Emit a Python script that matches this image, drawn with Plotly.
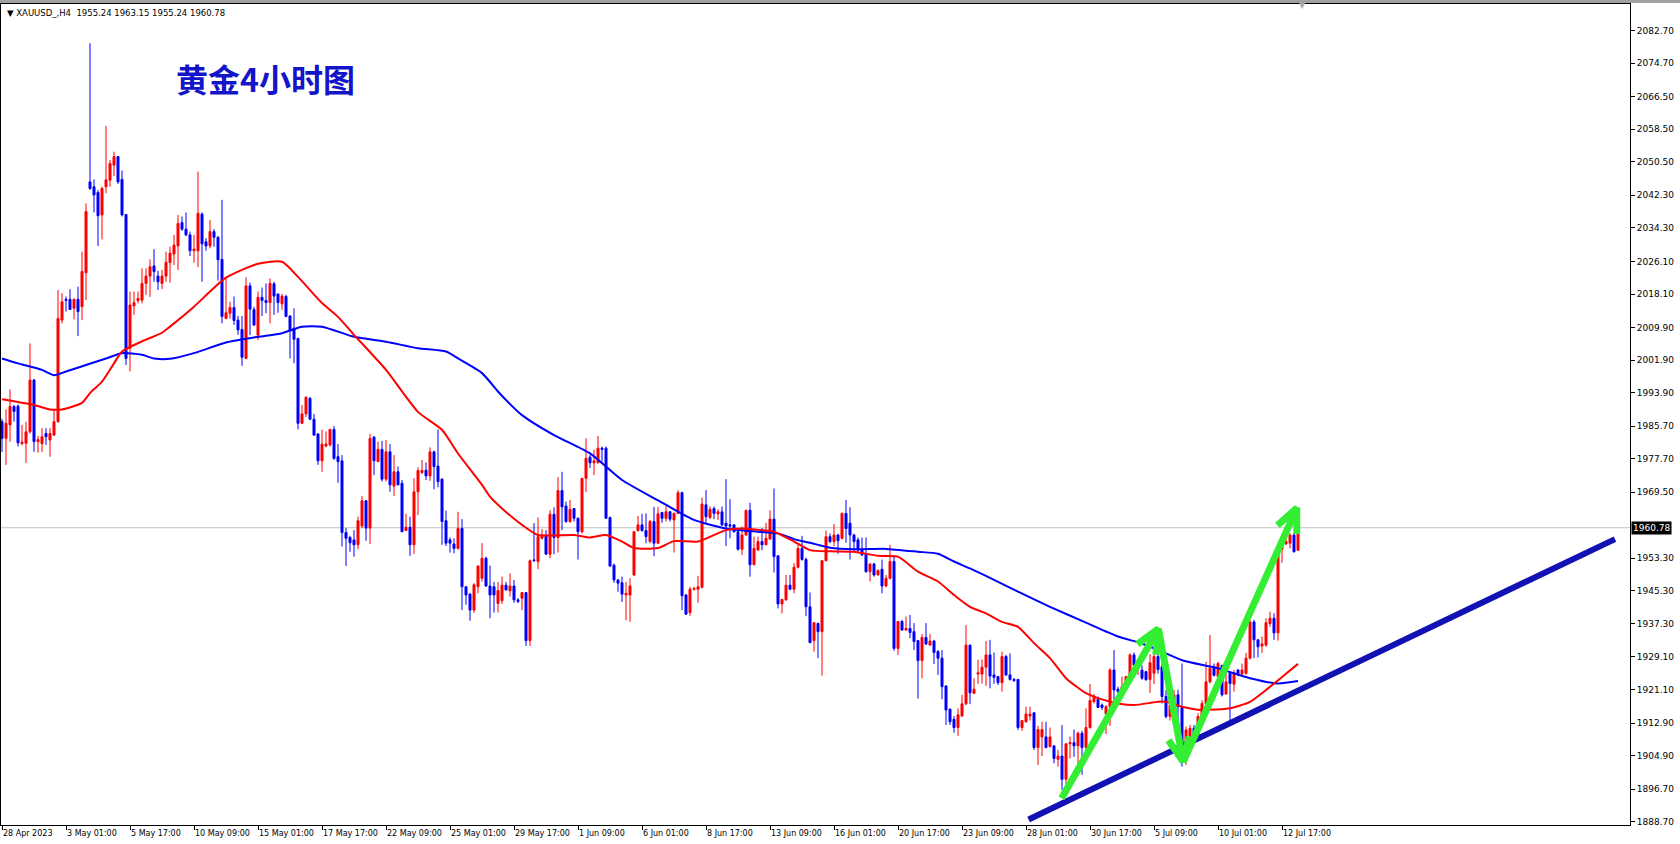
import math
import plotly.graph_objects as go

# ---------------- data ----------------
tick_labels = ["28 Apr 2023", "3 May 01:00", "5 May 17:00", "10 May 09:00", "15 May 01:00",
               "17 May 17:00", "22 May 09:00", "25 May 01:00", "29 May 17:00", "1 Jun 09:00",
               "6 Jun 01:00", "8 Jun 17:00", "13 Jun 09:00", "16 Jun 01:00", "20 Jun 17:00",
               "23 Jun 09:00", "28 Jun 01:00", "30 Jun 17:00", "5 Jul 09:00", "10 Jul 01:00",
               "12 Jul 17:00"]
tick_bars = [0, 16, 32, 48, 64, 80, 96, 112, 128, 144, 160, 176, 192, 208, 224, 240, 256,
             272, 288, 304, 320]

price_ticks = [2082.70, 2074.70, 2066.50, 2058.50, 2050.50, 2042.30, 2034.30, 2026.10,
               2018.10, 2009.90, 2001.90, 1993.90, 1985.70, 1977.70, 1969.50, 1953.30,
               1945.30, 1937.30, 1929.10, 1921.10, 1912.90, 1904.90, 1896.70, 1888.70]

# OHLC per 4h bar (bar index 0 = 28 Apr 09:00)
ohlc = [
    (1986.8, 1987.5, 1979.4, 1982.7), (1982.7, 1989.8, 1976.2, 1986.4), (1986.0, 1994.7, 1981.9, 1990.5),
    (1990.5, 1990.9, 1986.8, 1989.3), (1990.6, 1991.0, 1980.7, 1981.6), (1981.4, 1986.0, 1981.0, 1981.8),
    (1981.5, 1986.8, 1976.7, 1984.3), (1984.3, 2006.0, 1983.9, 1997.0), (1997.0, 1997.3, 1979.4, 1981.9),
    (1981.9, 1983.3, 1979.2, 1982.4), (1981.4, 1985.2, 1979.4, 1983.1), (1983.9, 1985.2, 1981.1, 1983.1),
    (1982.3, 1985.2, 1978.2, 1983.9), (1983.5, 1989.7, 1983.3, 1986.8), (1986.8, 2019.1, 1986.5, 2012.1),
    (2011.7, 2018.3, 2010.9, 2016.2), (2016.8, 2017.5, 2013.8, 2016.5), (2016.8, 2019.3, 2014.3, 2014.3),
    (2014.6, 2017.0, 2011.9, 2016.8), (2016.8, 2019.9, 2007.8, 2013.8), (2015.0, 2028.5, 2011.7, 2023.6),
    (2023.3, 2040.3, 2016.6, 2038.3), (2045.6, 2079.6, 2043.6, 2044.0), (2044.4, 2046.2, 2038.1, 2042.4),
    (2043.0, 2043.6, 2029.9, 2037.3), (2037.5, 2044.4, 2031.5, 2044.0), (2044.4, 2059.3, 2042.8, 2046.1),
    (2046.0, 2051.0, 2044.4, 2050.1), (2049.7, 2053.0, 2047.0, 2051.8), (2051.8, 2051.9, 2045.1, 2045.6),
    (2046.2, 2048.4, 2037.1, 2037.5), (2037.6, 2037.7, 2000.7, 2002.3), (2004.8, 2018.7, 1999.1, 2015.4),
    (2015.2, 2018.7, 2013.0, 2016.0), (2016.5, 2018.7, 2015.8, 2017.0), (2016.6, 2024.4, 2015.8, 2020.7),
    (2020.7, 2024.4, 2017.9, 2022.5), (2022.5, 2026.6, 2017.4, 2024.8), (2025.0, 2029.1, 2021.1, 2023.6),
    (2022.5, 2023.8, 2019.1, 2021.1), (2020.7, 2024.0, 2019.3, 2022.5), (2022.5, 2028.5, 2021.1, 2025.9),
    (2025.8, 2029.7, 2020.9, 2028.1), (2027.9, 2032.6, 2025.2, 2030.1), (2029.9, 2037.5, 2024.0, 2035.4),
    (2035.6, 2037.1, 2033.6, 2034.0), (2034.0, 2038.1, 2032.3, 2032.6), (2032.6, 2033.4, 2027.4, 2028.7),
    (2028.7, 2032.6, 2025.8, 2029.1), (2028.7, 2048.1, 2024.7, 2037.9), (2037.7, 2038.1, 2021.1, 2030.4),
    (2030.9, 2031.8, 2028.7, 2029.9), (2029.9, 2036.3, 2029.3, 2033.4), (2033.4, 2034.0, 2029.7, 2032.0),
    (2032.0, 2032.3, 2021.4, 2026.5), (2026.6, 2041.2, 2010.9, 2012.6), (2012.1, 2022.0, 2011.9, 2013.5),
    (2013.4, 2016.2, 2012.1, 2014.8), (2014.8, 2017.5, 2010.5, 2011.6), (2011.7, 2012.7, 2008.1, 2009.3),
    (2009.4, 2012.7, 2000.5, 2002.6), (2002.3, 2022.2, 2002.1, 2020.1), (2020.1, 2020.9, 2008.0, 2014.4),
    (2014.3, 2015.0, 2010.3, 2010.5), (2008.0, 2018.7, 2006.8, 2017.3), (2017.3, 2019.7, 2012.7, 2016.5),
    (2016.5, 2020.7, 2013.4, 2016.0), (2016.0, 2021.9, 2010.9, 2020.7), (2020.6, 2021.1, 2013.0, 2017.6),
    (2018.1, 2018.2, 2013.5, 2016.0), (2015.7, 2018.1, 2014.2, 2017.6), (2017.5, 2017.9, 2012.4, 2012.6),
    (2012.7, 2012.9, 2002.3, 2009.3), (2009.7, 2014.6, 2001.1, 2007.0), (2007.2, 2007.4, 1984.9, 1986.4),
    (1986.4, 1990.9, 1986.2, 1988.7), (1988.7, 1993.0, 1987.9, 1992.8), (1992.5, 1992.9, 1987.2, 1987.4),
    (1987.4, 1988.7, 1983.3, 1983.5), (1983.8, 1983.9, 1976.2, 1977.2), (1977.2, 1984.8, 1974.5, 1981.3),
    (1980.8, 1984.4, 1980.5, 1981.3), (1981.1, 1985.0, 1980.7, 1984.9), (1984.9, 1985.7, 1977.4, 1977.8),
    (1978.2, 1981.3, 1971.8, 1977.0), (1977.2, 1978.6, 1956.2, 1959.6), (1959.6, 1960.7, 1951.4, 1958.2),
    (1958.4, 1958.8, 1954.9, 1957.1), (1957.8, 1960.2, 1953.7, 1956.6), (1956.6, 1963.5, 1955.5, 1962.5),
    (1961.2, 1968.6, 1960.7, 1967.4), (1967.4, 1967.6, 1957.6, 1960.7), (1960.7, 1983.8, 1956.8, 1982.7),
    (1983.0, 1983.3, 1973.7, 1977.2), (1977.0, 1981.9, 1976.9, 1980.0), (1980.0, 1982.1, 1972.1, 1972.7),
    (1972.7, 1982.3, 1972.1, 1979.4), (1979.4, 1981.3, 1969.6, 1971.3), (1971.0, 1978.6, 1968.6, 1974.5),
    (1974.5, 1975.8, 1971.3, 1971.3), (1971.7, 1972.5, 1959.8, 1959.8), (1960.1, 1964.2, 1960.0, 1960.9),
    (1960.9, 1963.5, 1953.9, 1956.6), (1956.6, 1972.9, 1954.4, 1969.6), (1969.6, 1975.6, 1963.9, 1974.8),
    (1974.3, 1977.4, 1974.0, 1974.8), (1974.9, 1976.8, 1972.5, 1973.5), (1973.5, 1980.5, 1972.3, 1979.4),
    (1979.4, 1979.7, 1970.2, 1975.8), (1975.9, 1984.9, 1970.7, 1972.1), (1972.7, 1972.9, 1956.6, 1962.3),
    (1962.5, 1965.0, 1956.3, 1957.0), (1957.8, 1958.4, 1954.7, 1957.0), (1956.8, 1958.2, 1954.5, 1955.7),
    (1955.7, 1964.7, 1955.4, 1960.6), (1960.6, 1962.9, 1940.6, 1946.3), (1946.3, 1946.5, 1941.9, 1944.3),
    (1944.5, 1944.8, 1938.0, 1940.6), (1940.6, 1947.2, 1939.9, 1946.8), (1946.3, 1951.6, 1944.7, 1951.4),
    (1948.4, 1957.0, 1947.6, 1953.3), (1953.3, 1953.7, 1946.3, 1946.5), (1946.5, 1951.5, 1938.6, 1944.3),
    (1946.3, 1947.5, 1940.0, 1944.3), (1942.2, 1947.5, 1940.0, 1945.4), (1942.9, 1948.8, 1942.1, 1946.7),
    (1946.7, 1947.5, 1945.5, 1945.5), (1945.3, 1949.6, 1943.9, 1946.5), (1946.5, 1948.0, 1942.4, 1943.1),
    (1943.1, 1943.5, 1942.3, 1942.7), (1943.5, 1945.0, 1940.6, 1944.9), (1944.9, 1945.0, 1931.8, 1933.1),
    (1933.1, 1953.0, 1931.8, 1952.7), (1952.9, 1961.9, 1952.5, 1952.7), (1952.5, 1963.3, 1950.6, 1958.6),
    (1958.2, 1960.4, 1957.9, 1959.0), (1959.0, 1960.2, 1954.2, 1954.3), (1954.3, 1965.1, 1953.3, 1964.1),
    (1964.1, 1965.8, 1954.3, 1958.4), (1958.4, 1973.2, 1954.7, 1969.9), (1969.9, 1974.5, 1960.2, 1965.9),
    (1966.1, 1967.2, 1962.0, 1962.3), (1962.3, 1967.6, 1962.0, 1965.3), (1965.5, 1965.6, 1962.3, 1963.1),
    (1963.1, 1963.3, 1953.0, 1959.8), (1959.8, 1973.0, 1959.4, 1972.9), (1972.9, 1982.7, 1969.6, 1977.8),
    (1978.1, 1978.6, 1975.4, 1976.7), (1976.7, 1979.9, 1973.7, 1977.2), (1976.7, 1983.3, 1976.6, 1980.3),
    (1980.3, 1980.7, 1977.0, 1980.0), (1980.3, 1980.7, 1962.9, 1963.1), (1963.3, 1963.5, 1951.2, 1951.4),
    (1951.6, 1952.0, 1947.3, 1948.0), (1948.0, 1948.1, 1945.1, 1947.2), (1947.3, 1948.8, 1942.6, 1944.5),
    (1944.3, 1947.5, 1938.1, 1944.7), (1944.3, 1948.4, 1937.7, 1946.5), (1949.2, 1959.9, 1948.9, 1959.8),
    (1960.1, 1963.7, 1959.8, 1961.5), (1961.5, 1964.2, 1959.8, 1960.1), (1960.1, 1964.3, 1957.0, 1958.6),
    (1957.4, 1962.7, 1957.0, 1962.3), (1962.3, 1965.9, 1953.8, 1957.0), (1957.0, 1965.9, 1956.8, 1964.2),
    (1964.5, 1964.7, 1962.0, 1963.1), (1963.1, 1966.1, 1962.3, 1964.7), (1964.7, 1964.8, 1962.3, 1962.9),
    (1962.7, 1964.5, 1954.7, 1964.3), (1964.3, 1970.0, 1964.2, 1969.4), (1969.4, 1969.6, 1940.6, 1944.1),
    (1944.3, 1944.5, 1939.4, 1939.6), (1940.0, 1946.3, 1939.2, 1945.7), (1945.7, 1946.3, 1945.4, 1945.9),
    (1945.7, 1949.0, 1942.4, 1946.3), (1946.2, 1968.2, 1945.9, 1966.6), (1966.4, 1970.0, 1962.0, 1963.5),
    (1963.3, 1966.0, 1962.9, 1965.3), (1965.5, 1966.0, 1962.9, 1964.3), (1964.2, 1965.3, 1962.7, 1964.7),
    (1964.7, 1966.0, 1961.2, 1961.5), (1961.9, 1972.7, 1956.3, 1961.2), (1961.5, 1967.8, 1958.2, 1961.2),
    (1961.5, 1961.6, 1959.6, 1959.8), (1959.8, 1960.1, 1955.2, 1955.5), (1955.5, 1961.1, 1954.1, 1959.0),
    (1959.0, 1965.3, 1958.8, 1965.0), (1965.1, 1966.9, 1948.8, 1951.7), (1951.7, 1958.6, 1951.6, 1955.7),
    (1955.3, 1958.6, 1955.2, 1957.4), (1957.4, 1960.7, 1955.3, 1956.6), (1956.6, 1962.0, 1956.5, 1958.2),
    (1958.0, 1965.1, 1957.9, 1962.9), (1962.9, 1970.4, 1949.8, 1953.7), (1953.9, 1954.0, 1941.0, 1942.1),
    (1942.1, 1943.3, 1939.8, 1943.2), (1943.1, 1949.2, 1942.9, 1946.7), (1946.7, 1949.2, 1945.5, 1945.7),
    (1945.7, 1952.1, 1944.7, 1951.1), (1951.1, 1956.6, 1950.8, 1955.7), (1955.7, 1958.8, 1952.7, 1953.0),
    (1953.0, 1953.5, 1939.1, 1941.4), (1941.4, 1944.9, 1932.5, 1932.6), (1933.1, 1937.6, 1930.4, 1937.5),
    (1937.3, 1937.5, 1928.8, 1935.3), (1935.3, 1952.8, 1924.5, 1952.7), (1952.7, 1960.1, 1952.5, 1958.6),
    (1958.6, 1959.4, 1957.0, 1957.4), (1957.4, 1961.7, 1956.3, 1959.0), (1959.0, 1959.3, 1954.4, 1957.6),
    (1958.2, 1964.5, 1957.9, 1964.3), (1964.3, 1967.6, 1957.1, 1960.6), (1961.9, 1965.8, 1953.0, 1959.0),
    (1959.0, 1959.3, 1954.7, 1957.4), (1957.8, 1958.4, 1954.9, 1955.3), (1955.5, 1958.4, 1953.9, 1954.1),
    (1954.3, 1958.4, 1949.8, 1950.0), (1950.0, 1952.1, 1947.6, 1951.9), (1951.9, 1952.2, 1948.8, 1949.2),
    (1949.2, 1950.6, 1949.1, 1950.3), (1950.6, 1953.0, 1944.7, 1946.5), (1946.5, 1949.2, 1946.2, 1948.4),
    (1948.4, 1956.6, 1948.1, 1952.5), (1952.5, 1954.1, 1930.6, 1931.2), (1931.2, 1937.9, 1929.6, 1937.8),
    (1937.8, 1938.2, 1935.6, 1935.7), (1935.7, 1939.0, 1935.5, 1936.1), (1936.1, 1939.4, 1933.7, 1935.1),
    (1935.3, 1937.4, 1930.8, 1932.9), (1933.1, 1933.3, 1918.9, 1928.2), (1928.2, 1934.7, 1923.9, 1933.9),
    (1933.9, 1937.4, 1932.0, 1932.3), (1932.0, 1934.7, 1931.9, 1933.0), (1933.0, 1933.3, 1927.4, 1930.2),
    (1930.4, 1930.8, 1924.7, 1928.8), (1928.8, 1930.8, 1918.7, 1921.8), (1922.0, 1922.1, 1912.4, 1916.1),
    (1916.3, 1916.4, 1912.4, 1913.2), (1913.8, 1914.6, 1910.5, 1911.8), (1911.8, 1916.5, 1909.7, 1914.9),
    (1914.6, 1919.8, 1914.5, 1917.6), (1917.6, 1936.9, 1917.3, 1932.0), (1932.0, 1932.1, 1917.6, 1920.3),
    (1920.2, 1923.9, 1920.0, 1921.2), (1924.9, 1928.4, 1922.5, 1925.2), (1924.9, 1928.5, 1922.6, 1926.6),
    (1926.6, 1933.0, 1922.0, 1929.6), (1929.6, 1933.3, 1921.4, 1924.4), (1924.7, 1930.2, 1922.5, 1924.1),
    (1924.3, 1924.4, 1922.2, 1922.8), (1922.8, 1930.4, 1920.6, 1929.2), (1929.2, 1929.6, 1924.4, 1924.7),
    (1924.7, 1930.0, 1923.3, 1923.6), (1923.6, 1923.9, 1923.0, 1923.3), (1923.6, 1923.7, 1911.2, 1911.8),
    (1911.8, 1913.5, 1911.0, 1913.5), (1913.2, 1916.9, 1913.0, 1915.1), (1914.6, 1916.9, 1913.5, 1915.1),
    (1915.4, 1915.5, 1906.3, 1906.9), (1906.9, 1912.2, 1902.6, 1911.3), (1909.5, 1913.2, 1904.8, 1911.3),
    (1909.5, 1913.2, 1906.7, 1906.9), (1907.1, 1911.8, 1906.9, 1909.5), (1907.3, 1907.4, 1903.0, 1904.2),
    (1904.0, 1906.3, 1902.2, 1904.8), (1904.8, 1912.4, 1896.5, 1899.1), (1899.1, 1907.9, 1897.9, 1907.8),
    (1907.8, 1909.6, 1904.2, 1908.1), (1908.1, 1911.3, 1904.6, 1907.3), (1907.3, 1910.8, 1902.4, 1910.4),
    (1910.4, 1911.0, 1900.2, 1906.9), (1906.9, 1916.5, 1906.3, 1911.8), (1911.8, 1922.5, 1911.5, 1918.4),
    (1918.1, 1920.0, 1917.7, 1919.5), (1918.7, 1919.4, 1916.6, 1916.7), (1917.3, 1917.7, 1916.1, 1916.7),
    (1915.1, 1917.3, 1910.2, 1916.9), (1916.9, 1926.3, 1912.2, 1925.9), (1925.9, 1930.8, 1917.7, 1921.0),
    (1921.2, 1921.8, 1920.3, 1920.6), (1921.2, 1924.3, 1921.0, 1921.8), (1922.0, 1924.4, 1921.8, 1924.3),
    (1924.3, 1930.0, 1924.2, 1929.6), (1929.6, 1930.2, 1926.5, 1927.1), (1926.3, 1928.3, 1924.7, 1927.9),
    (1925.9, 1927.1, 1923.5, 1923.9), (1925.5, 1925.7, 1923.3, 1923.5), (1923.6, 1929.8, 1920.3, 1927.7),
    (1925.1, 1929.8, 1922.5, 1929.2), (1929.2, 1930.4, 1925.0, 1926.0), (1926.7, 1927.5, 1917.7, 1919.4),
    (1919.4, 1921.0, 1914.0, 1914.5), (1914.5, 1918.0, 1913.5, 1917.3), (1917.3, 1921.0, 1917.1, 1919.8),
    (1919.8, 1921.1, 1912.8, 1916.9), (1916.9, 1927.5, 1902.2, 1907.9), (1907.9, 1912.0, 1902.6, 1911.2),
    (1909.7, 1912.4, 1909.5, 1911.6), (1911.6, 1912.4, 1908.5, 1909.1), (1909.5, 1915.3, 1909.0, 1914.5),
    (1914.5, 1918.5, 1914.0, 1917.7), (1917.7, 1927.9, 1916.9, 1923.0), (1923.0, 1934.5, 1922.6, 1926.3),
    (1926.7, 1927.5, 1924.3, 1924.6), (1924.3, 1927.9, 1922.6, 1927.5), (1927.0, 1927.2, 1919.4, 1919.8),
    (1920.0, 1925.5, 1919.8, 1923.0), (1925.1, 1925.2, 1913.2, 1922.6), (1922.4, 1925.9, 1920.6, 1925.2),
    (1925.9, 1926.1, 1924.4, 1924.7), (1924.9, 1927.5, 1924.7, 1925.9), (1925.1, 1930.1, 1924.7, 1928.8),
    (1928.8, 1938.2, 1928.5, 1937.7), (1937.7, 1938.2, 1928.8, 1933.3), (1933.3, 1933.4, 1929.0, 1931.6),
    (1931.8, 1934.1, 1930.1, 1932.3), (1932.0, 1938.6, 1931.6, 1937.5), (1937.3, 1940.2, 1936.5, 1938.6),
    (1938.6, 1939.8, 1933.3, 1935.0), (1935.0, 1956.1, 1933.1, 1955.7), (1955.5, 1957.8, 1952.2, 1957.0),
    (1956.8, 1958.6, 1956.6, 1957.4), (1957.0, 1959.4, 1955.7, 1959.0), (1959.0, 1959.4, 1954.7, 1954.9),
    (1955.24, 1963.15, 1955.24, 1960.78),
]
bars = list(range(len(ohlc)))
open_ = [r[0] for r in ohlc]
high_ = [r[1] for r in ohlc]
low_ = [r[2] for r in ohlc]
close_ = [r[3] for r in ohlc]

# moving averages (bar index, value)
ma_red_bars = [0, 8, 12, 15, 20, 22, 25, 28, 30, 35, 40, 42, 48, 56, 64, 70, 74, 80, 84, 88, 96,
               104, 110, 114, 120, 122, 125, 130, 134, 143, 147, 151, 155, 158, 164, 168, 174,
               181, 185, 190, 193, 198, 202, 207, 213, 219, 224, 229, 234, 238, 242, 246, 250,
               254, 258, 262, 266, 271, 274, 279, 283, 289, 291, 295, 300, 307, 312, 316, 320, 324]
ma_red_vals = [1992.3, 1990.9, 1989.8, 1989.8, 1991.4, 1993.8, 1996.6, 2001.1, 2004.0, 2006.5,
               2008.6, 2010.1, 2015.0, 2022.1, 2025.5, 2026.0, 2022.3, 2015.9, 2012.5, 2008.1,
               1999.5, 1989.2, 1984.8, 1979.0, 1971.3, 1968.4, 1965.5, 1961.5, 1959.0, 1959.0,
               1958.4, 1959.0, 1957.4, 1955.8, 1955.8, 1957.5, 1957.4, 1960.2, 1960.6, 1960.2,
               1959.8, 1957.4, 1955.3, 1955.0, 1954.9, 1953.9, 1953.7, 1950.0, 1947.6, 1944.3,
               1941.4, 1939.8, 1937.7, 1936.5, 1932.5, 1928.8, 1923.9, 1920.2, 1919.0, 1917.7,
               1917.3, 1918.1, 1918.1, 1916.9, 1916.1, 1916.5, 1918.1, 1921.0, 1924.2, 1927.4]
ma_blue_bars = [0, 4, 10, 13, 16, 21, 26, 30, 35, 38, 42, 48, 56, 64, 70, 75, 80, 88, 96, 104,
                111, 114, 120, 124, 126, 130, 138, 147, 155, 164, 173, 181, 189, 194, 198, 202,
                207, 213, 221, 229, 234, 238, 242, 248, 254, 262, 271, 279, 285, 290, 295, 304,
                312, 319, 324]
ma_blue_vals = [2002.3, 2001.1, 1999.5, 1998.2, 1999.1, 2000.7, 2002.3, 2003.6, 2003.2, 2002.3,
                2002.2, 2003.6, 2006.2, 2007.6, 2008.5, 2010.1, 2010.1, 2007.6, 2006.4, 2004.8,
                2004.0, 2002.3, 1998.7, 1994.2, 1992.1, 1988.4, 1983.5, 1979.0, 1972.5, 1967.5,
                1962.7, 1960.6, 1959.8, 1959.4, 1958.0, 1957.1, 1955.9, 1955.5, 1955.6, 1954.9,
                1954.4, 1952.5, 1950.8, 1948.0, 1945.1, 1941.4, 1937.5, 1934.1, 1932.4, 1930.4,
                1928.3, 1926.3, 1923.9, 1922.6, 1923.2]

current_price = 1960.78
header_text = "XAUUSD_,H4  1955.24 1963.15 1955.24 1960.78"
title_text = "黄金4小时图"

# hand-drawn objects (bar index, price)
trend_bars = [256.65, 403.25]
trend_prices = [1889.25, 1958.0]
arrow_starts = [(264.9, 1894.45), (289.1, 1936.0), (295.3, 1903.4)]
arrow_tips = [(289.1, 1936.0), (295.3, 1903.4), (323.7, 1965.6)]

# ---------------- layout geometry ----------------
W, H = 1680, 844
M_L, M_R, M_T, M_B = 1, 50, 4, 19
PW, PH = W - M_L - M_R, H - M_T - M_B
X_RANGE = [-0.25, -0.25 + PW / 4.0]
Y_RANGE = [1887.89, 2089.22]
PPB = PW / (X_RANGE[1] - X_RANGE[0])
PPP = PH / (Y_RANGE[1] - Y_RANGE[0])


def paper_x(px):
    return (px - M_L) / PW


def paper_y(py):
    return (H - M_B - py) / PH


def arrow_path(start, tip, length=26, spread=24):
    dx = (tip[0] - start[0]) * PPB
    dy = (tip[1] - start[1]) * PPP
    back = math.atan2(dy, dx) + math.pi
    xs = [start[0], tip[0], None]
    ys = [start[1], tip[1], None]
    barbs = []
    for s in (1, -1):
        a = back + s * math.radians(spread)
        barbs.append((tip[0] + length * math.cos(a) / PPB, tip[1] + length * math.sin(a) / PPP))
    xs += [barbs[0][0], tip[0], barbs[1][0], None]
    ys += [barbs[0][1], tip[1], barbs[1][1], None]
    return xs, ys


fig = go.Figure()

fig.add_trace(go.Candlestick(
    x=bars, open=open_, high=high_, low=low_, close=close_,
    increasing=dict(line=dict(color="#FF0000", width=1), fillcolor="#FF0000"),
    decreasing=dict(line=dict(color="#0000FF", width=1), fillcolor="#0000FF"),
    whiskerwidth=0, showlegend=False, hoverinfo="skip"))

fig.add_trace(go.Scatter(x=ma_blue_bars, y=ma_blue_vals, mode="lines",
                         line=dict(color="#0000FF", width=2, shape="spline", smoothing=0.6),
                         showlegend=False, hoverinfo="skip"))
fig.add_trace(go.Scatter(x=ma_red_bars, y=ma_red_vals, mode="lines",
                         line=dict(color="#FF0000", width=2, shape="spline", smoothing=0.6),
                         showlegend=False, hoverinfo="skip"))

fig.add_trace(go.Scatter(x=trend_bars, y=trend_prices, mode="lines",
                         line=dict(color="#1212B4", width=6),
                         showlegend=False, hoverinfo="skip"))

ax_x, ax_y = [], []
for s, t in zip(arrow_starts, arrow_tips):
    xs, ys = arrow_path(s, t)
    ax_x += xs
    ax_y += ys
fig.add_trace(go.Scatter(x=ax_x, y=ax_y, mode="lines",
                         line=dict(color="#33EE33", width=7),
                         showlegend=False, hoverinfo="skip"))

fig.add_shape(type="line", xref="paper", yref="y", x0=0, x1=1, y0=current_price, y1=current_price,
              line=dict(color="#C0C0C0", width=1), layer="below")

# top window frame strip
fig.add_shape(type="rect", xref="paper", yref="paper", x0=paper_x(0), x1=paper_x(W),
              y0=paper_y(0), y1=paper_y(3), fillcolor="#A0A0A0", line=dict(width=0))

fig.add_annotation(xref="paper", yref="paper", x=paper_x(5), y=paper_y(13),
                   xanchor="left", yanchor="middle", showarrow=False,
                   text="▼ " + header_text,
                   font=dict(family="DejaVu Sans", size=8.5, color="#000000"))
fig.add_annotation(xref="paper", yref="paper", x=paper_x(265.5), y=paper_y(78),
                   xanchor="center", yanchor="middle", showarrow=False,
                   text="<b>" + title_text + "</b>",
                   font=dict(family="Noto Sans CJK SC", size=32, color="#1414C8"))
fig.add_annotation(xref="paper", yref="y", x=1, y=current_price, xanchor="left", yanchor="middle",
                   showarrow=False, text=f"{current_price:.2f}", bgcolor="#000000", borderpad=1,
                   xshift=1, font=dict(family="DejaVu Sans", size=9, color="#FFFFFF"))
fig.add_annotation(xref="paper", yref="paper", x=paper_x(1302), y=paper_y(6),
                   xanchor="center", yanchor="middle", showarrow=False, text="▼",
                   font=dict(family="DejaVu Sans", size=8, color="#A8A8A8"))

fig.update_layout(
    width=W, height=H, autosize=False,
    margin=dict(l=M_L, r=M_R, t=M_T, b=M_B, pad=0),
    paper_bgcolor="#FFFFFF", plot_bgcolor="#FFFFFF",
    boxgap=0.5, boxgroupgap=0,
    showlegend=False,
    xaxis=dict(range=X_RANGE, rangeslider=dict(visible=False), showgrid=False, zeroline=False,
               tickmode="array", tickvals=tick_bars, ticktext=tick_labels,
               ticks="outside", ticklen=4, tickcolor="#000000", ticklabelposition="outside right",
               tickfont=dict(family="DejaVu Sans", size=8, color="#000000"),
               showline=True, linecolor="#000000", linewidth=1, mirror=True, fixedrange=True),
    yaxis=dict(range=Y_RANGE, side="right", showgrid=False, zeroline=False,
               tickmode="array", tickvals=price_ticks, ticktext=[f"{v:.2f}" for v in price_ticks],
               ticks="outside", ticklen=4, tickcolor="#000000",
               tickfont=dict(family="DejaVu Sans", size=9, color="#000000"),
               showline=True, linecolor="#000000", linewidth=1, mirror=True, fixedrange=True),
)

fig.write_html("out.html", config={"displayModeBar": False},
               post_script="document.body.style.margin='0';")
